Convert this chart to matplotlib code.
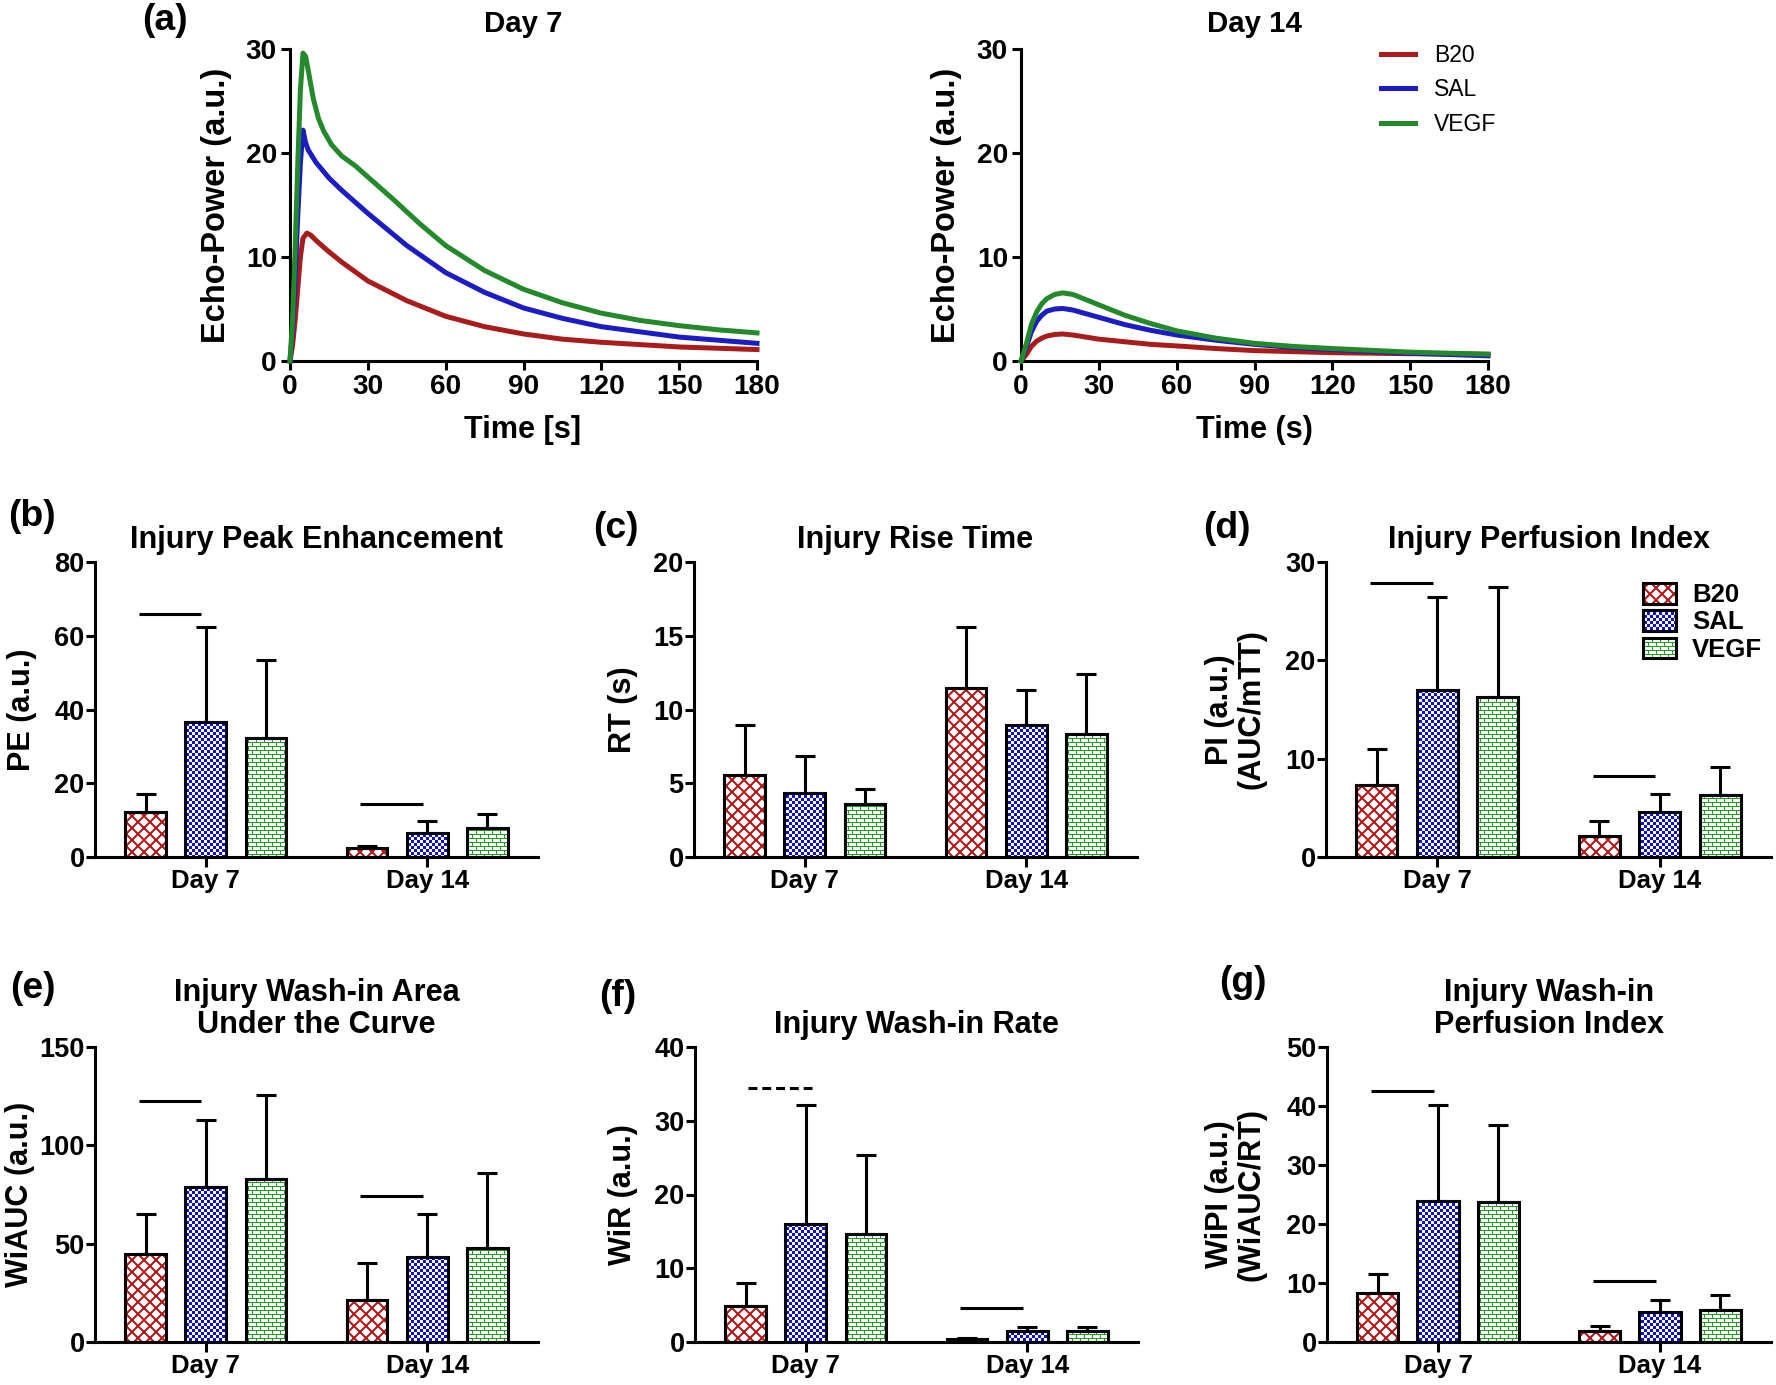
import numpy as np
import matplotlib
matplotlib.use("Agg")
import matplotlib.pyplot as plt
import matplotlib.patches as mpatches
from matplotlib import hatch as mhatch
from matplotlib.path import Path

# ---------------- data ----------------
groups = ["Day 7", "Day 14"]
treatments = ["B20", "SAL", "VEGF"]

# (a) time-intensity curves, Day 7
d7_t_b20 = [0, 1, 2, 3, 4, 5, 6.5, 8, 10, 15, 20, 30, 45, 60, 75, 90, 105, 120, 150, 180]
d7_b20 = [0, 1.5, 4, 7, 10, 11.8, 12.3, 12.1, 11.6, 10.5, 9.5, 7.7, 5.8, 4.3, 3.3, 2.6, 2.1, 1.8, 1.35, 1.1]
d7_t_sal = [0, 1, 2, 3, 4, 5, 6, 7, 10, 15, 20, 30, 45, 60, 75, 90, 105, 120, 150, 180]
d7_sal = [0, 3, 8, 14, 19, 22.2, 21.0, 20.3, 19.1, 17.6, 16.4, 14.2, 11.1, 8.5, 6.6, 5.1, 4.1, 3.3, 2.3, 1.7]
d7_t_vegf = [0, 1, 2, 3, 4, 5, 6, 7, 9, 11, 13, 16, 20, 25, 30, 40, 50, 60, 75, 90, 105, 120, 135, 150, 165, 180]
d7_vegf = [0, 4, 11, 19, 26, 29.6, 29.3, 28, 25.2, 23.3, 22.1, 20.8, 19.7, 18.8, 17.7, 15.5, 13.2, 11.1,
           8.7, 6.9, 5.6, 4.6, 3.9, 3.4, 3.0, 2.7]

# (a) time-intensity curves, Day 14
d14_t = [0, 2, 4, 6, 8, 10, 13, 16, 20, 25, 30, 40, 50, 60, 75, 90, 105, 120, 150, 180]
d14_b20 = [0, 0.6, 1.4, 1.9, 2.2, 2.4, 2.55, 2.6, 2.5, 2.3, 2.1, 1.85, 1.6, 1.45, 1.2, 1.0, 0.9, 0.8, 0.7, 0.65]
d14_sal = [0, 1.3, 2.8, 3.8, 4.4, 4.8, 5.0, 5.05, 4.9, 4.55, 4.2, 3.5, 2.95, 2.5, 2.0, 1.6, 1.3, 1.1, 0.75, 0.5]
d14_vegf = [0, 1.6, 3.5, 4.7, 5.5, 6.0, 6.4, 6.55, 6.4, 5.9, 5.4, 4.4, 3.6, 2.9, 2.2, 1.7, 1.4, 1.2, 0.85, 0.65]

# (b)-(g) bar data: rows = B20, SAL, VEGF ; columns = Day 7, Day 14 ; sd = upper error bar
pe_mean = [[12.3, 2.35], [36.5, 6.6], [32.2, 8.0]]
pe_sd = [[4.8, 0.65], [26.0, 3.2], [21.2, 3.7]]
pe_sig = [65.9, 14.4]
pe_ticks = [0, 20, 40, 60, 80]

rt_mean = [[5.56, 11.46], [4.36, 8.97], [3.6, 8.32]]
rt_sd = [[3.37, 4.11], [2.51, 2.35], [0.99, 4.08]]
rt_sig = [None, None]
rt_ticks = [0, 5, 10, 15, 20]

pi_mean = [[7.29, 2.14], [16.98, 4.54], [16.27, 6.3]]
pi_sd = [[3.71, 1.49], [9.42, 1.83], [11.23, 2.89]]
pi_sig = [27.9, 8.27]
pi_ticks = [0, 10, 20, 30]

wiauc_mean = [[44.7, 21.5], [78.8, 43.2], [83.0, 47.6]]
wiauc_sd = [[20.6, 18.7], [34.1, 22.1], [42.8, 38.3]]
wiauc_sig = [122.4, 74.1]
wiauc_ticks = [0, 50, 100, 150]

wir_mean = [[4.93, 0.4], [16.06, 1.54], [14.7, 1.54]]
wir_sd = [[3.07, 0.15], [16.04, 0.46], [10.7, 0.46]]
wir_sig = [34.5, 4.6]
wir_ticks = [0, 10, 20, 30, 40]

wipi_mean = [[8.3, 1.8], [23.95, 5.03], [23.67, 5.48]]
wipi_sd = [[3.3, 0.85], [16.15, 2.03], [13.13, 2.42]]
wipi_sig = [42.6, 10.3]
wipi_ticks = [0, 10, 20, 30, 40, 50]

# ---------------- style ----------------
DPI = 96
plt.rcParams["font.family"] = ["Liberation Sans", "DejaVu Sans"]
plt.rcParams["font.weight"] = "bold"
plt.rcParams["axes.linewidth"] = 2.3
plt.rcParams["hatch.linewidth"] = 0.75   # 1 px at 96 dpi

line_cols = ["#A81C1C", "#1C1CC4", "#23892A"]
hatch_cols = ["#B3191C", "#1010CC", "#1E9A1E"]
hatch_codes = ["x", "o", "-"]
offsets = [-0.272, 0.0, 0.272]
bar_w = 0.185
LW_TILE = plt.rcParams["hatch.linewidth"] / 72.0


# custom hatches (one tile = DPI pixels): diamond cross-hatch, checkerboard, bricks
class CrossHatch(mhatch.HatchPatternBase):
    def __init__(self, hatch, density):
        self.polys = []
        if "x" in hatch:
            m = 8
            d = 0.7 / DPI
            for k in range(-m, m + 1):
                c = k / m
                self.polys.append([(0, c - d), (1, 1 + c - d), (1, 1 + c + d), (0, c + d), (0, c - d)])
            for k in range(0, 2 * m + 1):
                e = k / m
                self.polys.append([(0, e - d), (1, e - 1 - d), (1, e - 1 + d), (0, e + d), (0, e - d)])
        self.num_vertices = 5 * len(self.polys)

    def set_vertices_and_codes(self, vertices, codes):
        vertices[:] = np.array(self.polys).reshape(-1, 2)
        codes[:] = np.tile([Path.MOVETO, Path.LINETO, Path.LINETO, Path.LINETO, Path.CLOSEPOLY],
                           len(self.polys))


class Checker(mhatch.HatchPatternBase):
    def __init__(self, hatch, density):
        self.n = 16 if "o" in hatch else 0
        self.num_vertices = 2 * self.n * self.n * 5

    def set_vertices_and_codes(self, vertices, codes):
        c = 1.0 / (2 * self.n)
        h = c / 2 - LW_TILE / 2
        sq = np.array([[-h, -h], [h, -h], [h, h], [-h, h], [-h, -h]])
        centers = []
        for i in range(self.n):
            for j in range(self.n):
                centers.append(((2 * i + 0.5) * c, (2 * j + 0.5) * c))
                centers.append(((2 * i + 1.5) * c, (2 * j + 1.5) * c))
        centers = np.array(centers)
        vertices[:] = (centers[:, None, :] + sq[None]).reshape(-1, 2)
        codes[:] = np.tile([Path.MOVETO, Path.LINETO, Path.LINETO, Path.LINETO, Path.CLOSEPOLY],
                           len(centers))


class Brick(mhatch.HatchPatternBase):
    def __init__(self, hatch, density):
        self.segs = []
        if "-" in hatch:
            R, B = 24, 12
            r, b = 1.0 / R, 1.0 / B
            for k in range(R):
                y = (k + 0.375) * r
                self.segs.append([(0, y), (1, y)])
            for k in range(R):
                shift = 0.5 * (k % 2) + 0.0625
                for j in range(B):
                    x = (j + shift) * b
                    if k < R - 1:
                        self.segs.append([(x, (k + 0.375) * r), (x, (k + 1.375) * r)])
                    else:
                        self.segs.append([(x, (k + 0.375) * r), (x, 1.0)])
                        self.segs.append([(x, 0.0), (x, 0.375 * r)])
        self.num_vertices = 2 * len(self.segs)

    def set_vertices_and_codes(self, vertices, codes):
        vertices[:] = np.array(self.segs).reshape(-1, 2)
        codes[0::2] = Path.MOVETO
        codes[1::2] = Path.LINETO


mhatch._hatch_types[:] = [CrossHatch, Checker, Brick]

W, H = 1776, 1385
fig = plt.figure(figsize=(W / DPI, H / DPI), dpi=DPI)


def box(x0, y0, x1, y1):
    return [x0 / W, 1 - y1 / H, (x1 - x0) / W, (y1 - y0) / H]


def fx(x):
    return x / W


def fy(y):
    return 1 - y / H


def style_axes(ax):
    ax.spines[["top", "right"]].set_visible(False)


# ---------------- (a) curves ----------------
def curve_panel(ax, series, title):
    for (t, y), col in zip(series, line_cols):
        ax.plot(t, y, color=col, lw=3.75, clip_on=False, zorder=3)
    ax.set_xlim(0, 180)
    ax.set_ylim(0, 30)
    ax.set_xticks(np.arange(0, 181, 30))
    ax.set_yticks([0, 10, 20, 30])
    ax.tick_params(length=6.8, width=2.3, pad=3, labelsize=21)
    ax.set_title(title, fontsize=22, fontweight="bold", pad=12.5)
    style_axes(ax)


ax7 = fig.add_axes(box(290, 49, 757, 361))
curve_panel(ax7, [(d7_t_b20, d7_b20), (d7_t_sal, d7_sal), (d7_t_vegf, d7_vegf)], "Day 7")
ax14 = fig.add_axes(box(1021, 49, 1488, 361))
curve_panel(ax14, [(d14_t, d14_b20), (d14_t, d14_sal), (d14_t, d14_vegf)], "Day 14")
ax14.legend(ax14.get_lines(), treatments, loc="upper left", bbox_to_anchor=(fx(1381), fy(44)),
            bbox_transform=fig.transFigure, frameon=False, borderpad=0, borderaxespad=0,
            handlelength=1.5, handletextpad=0.8, labelspacing=0.5,
            prop={"size": 17.2, "weight": "normal"})

fig.text(fx(217), fy(205), "Echo-Power (a.u.)", rotation=90, ha="center", va="center", fontsize=24.5)
fig.text(fx(947), fy(205), "Echo-Power (a.u.)", rotation=90, ha="center", va="center", fontsize=24.5)
fig.text(fx(523), fy(430), "Time [s]", ha="center", va="center", fontsize=23)
fig.text(fx(1254), fy(430), "Time (s)", ha="center", va="center", fontsize=23)
fig.text(fx(165), fy(20), "(a)", ha="center", va="center", fontsize=28)


# ---------------- (b)-(g) bars ----------------
def bar_panel(ax, means, sds, sig, dashed, yticks, title):
    x = np.arange(len(groups))
    for i in range(3):
        pos = x + offsets[i]
        m = np.array(means[i])
        s = np.array(sds[i])
        ax.bar(pos, m, bar_w, color="white", edgecolor=hatch_cols[i], hatch=hatch_codes[i],
               linewidth=0, zorder=2)
        ax.bar(pos, m, bar_w, fill=False, edgecolor="black", linewidth=2.3, zorder=3)
        ax.errorbar(pos, m, yerr=[np.zeros_like(s), s], fmt="none", ecolor="black",
                    elinewidth=2.3, capsize=7.3, capthick=2.3, zorder=4)
    for g, yv in enumerate(sig):
        if yv is None:
            continue
        if dashed[g]:
            ax.plot([g + offsets[0] + 0.01, g + offsets[1] + 0.03], [yv, yv], color="black",
                    lw=2.3, ls=(0, (2.9, 1.6)), zorder=4)
        else:
            ax.plot([g + offsets[0] - 0.03, g + offsets[1] - 0.02], [yv, yv], color="black",
                    lw=2.3, solid_capstyle="butt", zorder=4)
    ax.set_xlim(-0.5, 1.5)
    ax.set_ylim(0, yticks[-1])
    ax.set_xticks(x, groups)
    ax.set_yticks(yticks)
    ax.tick_params(axis="y", length=6.8, width=2.3, pad=1, labelsize=20.3)
    ax.tick_params(axis="x", length=7.3, width=2.3, pad=2, labelsize=19.3)
    ax.set_title(title, fontsize=23, fontweight="bold", pad=10.4, linespacing=1.1)
    style_axes(ax)


panels = [
    (box(95, 562, 538, 857), pe_mean, pe_sd, pe_sig, [False, False], pe_ticks,
     "Injury Peak Enhancement", "PE (a.u.)", 22, "(b)", (32, 516)),
    (box(694, 562, 1137, 857), rt_mean, rt_sd, rt_sig, [False, False], rt_ticks,
     "Injury Rise Time", "RT (s)", 623, "(c)", (616, 529)),
    (box(1326, 562, 1771, 857), pi_mean, pi_sd, pi_sig, [False, False], pi_ticks,
     "Injury Perfusion Index", "PI (a.u.)\n(AUC/mTT)", 1236, "(d)", (1227, 529)),
    (box(95, 1047, 538, 1342), wiauc_mean, wiauc_sd, wiauc_sig, [False, False], wiauc_ticks,
     "Injury Wash-in Area\nUnder the Curve", "WiAUC (a.u.)", 20, "(e)", (33, 988)),
    (box(695, 1047, 1138, 1342), wir_mean, wir_sd, wir_sig, [True, False], wir_ticks,
     "Injury Wash-in Rate", "WiR (a.u.)", 623, "(f)", (618, 996)),
    (box(1327, 1047, 1771, 1342), wipi_mean, wipi_sd, wipi_sig, [False, False], wipi_ticks,
     "Injury Wash-in\nPerfusion Index", "WiPI (a.u.)\n(WiAUC/RT)", 1236, "(g)", (1243, 983)),
]

bar_axes = []
for rect, mean, sd, sig, dashed, ticks, title, ylab, ylx, letter, lpos in panels:
    ax = fig.add_axes(rect)
    bar_panel(ax, mean, sd, sig, dashed, ticks, title)
    bar_axes.append(ax)
    fig.text(fx(ylx), rect[1] + rect[3] / 2, ylab, rotation=90, ha="center", va="center",
             fontsize=23, linespacing=1.05)
    fig.text(fx(lpos[0]), fy(lpos[1]), letter, ha="center", va="center", fontsize=28)

leg_handles = [(mpatches.Patch(facecolor="white", edgecolor=hatch_cols[i], hatch=hatch_codes[i],
                               linewidth=0),
                mpatches.Patch(fill=False, edgecolor="black", linewidth=2.3)) for i in range(3)]
bar_axes[2].legend(leg_handles, treatments, loc="upper left", bbox_to_anchor=(fx(1643), fy(583)),
                   bbox_transform=fig.transFigure, frameon=False, borderpad=0, borderaxespad=0,
                   handlelength=1.3, handleheight=0.85, handletextpad=0.6, labelspacing=0.12,
                   fontsize=19.3)

fig.savefig("out.png", dpi=DPI)
